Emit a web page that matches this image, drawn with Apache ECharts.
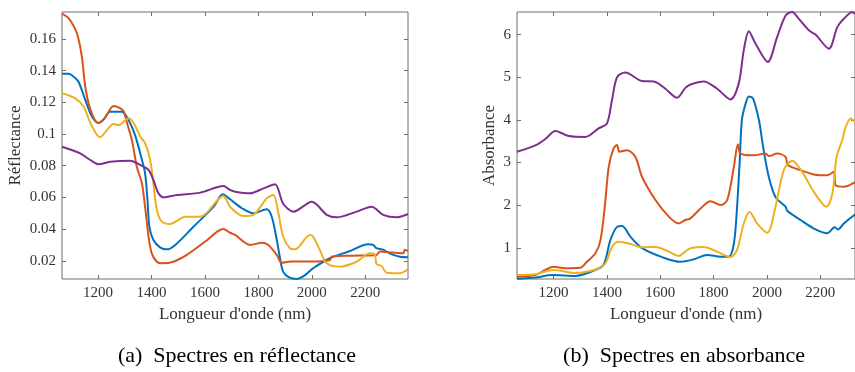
<!DOCTYPE html>
<html>
<head>
<meta charset="utf-8">
<script src="https://cdn.jsdelivr.net/npm/echarts@6/dist/echarts.min.js"></script>
<style>
html,body{margin:0;padding:0;background:#fff;}
#chart{width:855px;height:372px;}
</style>
</head>
<body>
<div id="chart"></div>
<script>
// ---- Data (wavelength nm, value) ----
const xTicks = [1200, 1400, 1600, 1800, 2000, 2200];
const reflTicks = [0.02, 0.04, 0.06, 0.08, 0.1, 0.12, 0.14, 0.16];
const absTicks = [1, 2, 3, 4, 5, 6];
const seriesNames = ['Échantillon 1', 'Échantillon 2', 'Échantillon 3', 'Échantillon 4'];
const colors = ['#0072BD', '#D95319', '#EDB120', '#7E2F8E'];

const reflBlue = [[1065,0.138],[1090,0.138],[1110,0.136],[1127,0.133],[1152,0.1215],[1177,0.111],[1202,0.107],[1220,0.109],[1245,0.114],[1289,0.114],[1314,0.1088],[1339,0.099],[1364,0.0838],[1376,0.0752],[1385,0.0583],[1392,0.0415],[1407,0.0331],[1432,0.0285],[1457,0.0272],[1489,0.030],[1557,0.0415],[1632,0.054],[1667,0.062],[1694,0.0588],[1740,0.053],[1781,0.050],[1831,0.0525],[1850,0.0478],[1869,0.0331],[1881,0.0216],[1893,0.013],[1915,0.0095],[1943,0.0085],[1975,0.011],[2005,0.0153],[2068,0.0216],[2140,0.026],[2211,0.0304],[2230,0.030],[2242,0.028],[2267,0.027],[2300,0.024],[2330,0.0226],[2360,0.0222]];
const reflOrange = [[1065,0.176],[1090,0.173],[1115,0.166],[1127,0.160],[1140,0.148],[1152,0.130],[1171,0.1155],[1200,0.107],[1225,0.110],[1258,0.1177],[1280,0.1165],[1295,0.1145],[1310,0.106],[1327,0.096],[1345,0.0794],[1364,0.069],[1376,0.054],[1389,0.0352],[1401,0.0247],[1420,0.0194],[1439,0.0184],[1482,0.0194],[1532,0.0237],[1600,0.032],[1669,0.040],[1694,0.0377],[1713,0.0363],[1769,0.030],[1813,0.0314],[1837,0.030],[1869,0.0237],[1887,0.0188],[1920,0.0195],[2000,0.0195],[2068,0.0205],[2074,0.0226],[2150,0.0232],[2242,0.0237],[2255,0.0258],[2300,0.0252],[2342,0.0247],[2348,0.027],[2360,0.026]];
const reflYellow = [[1065,0.1257],[1115,0.1225],[1146,0.1172],[1171,0.107],[1196,0.0994],[1208,0.098],[1233,0.1025],[1258,0.1063],[1277,0.1057],[1314,0.110],[1333,0.107],[1358,0.0985],[1376,0.0942],[1395,0.0836],[1407,0.0689],[1420,0.0521],[1439,0.0447],[1470,0.0432],[1526,0.0478],[1582,0.0478],[1669,0.0609],[1694,0.054],[1744,0.0483],[1781,0.049],[1831,0.0594],[1856,0.0615],[1875,0.050],[1893,0.0352],[1918,0.0279],[1937,0.0272],[1993,0.0363],[2005,0.0352],[2030,0.0268],[2056,0.0184],[2105,0.0163],[2168,0.0194],[2217,0.0247],[2236,0.0237],[2242,0.018],[2261,0.0167],[2280,0.0125],[2330,0.0122],[2350,0.0135],[2360,0.015]];
const reflPurple = [[1065,0.092],[1133,0.0878],[1171,0.0836],[1202,0.0809],[1245,0.0825],[1320,0.0832],[1358,0.0804],[1389,0.0773],[1407,0.071],[1426,0.0626],[1445,0.060],[1495,0.0615],[1582,0.063],[1669,0.0672],[1694,0.0647],[1713,0.0636],[1769,0.0626],[1819,0.0657],[1862,0.0683],[1893,0.056],[1931,0.051],[2000,0.0573],[2056,0.049],[2093,0.0474],[2168,0.051],[2224,0.0541],[2267,0.049],[2317,0.0474],[2360,0.0495]];

const absBlue = [[1063,0.27],[1132,0.30],[1194,0.36],[1282,0.34],[1357,0.48],[1388,0.60],[1413,1.18],[1438,1.49],[1457,1.51],[1488,1.26],[1532,0.99],[1607,0.78],[1676,0.67],[1726,0.73],[1776,0.83],[1826,0.79],[1857,0.79],[1876,1.10],[1888,1.96],[1898,3.05],[1906,4.0],[1920,4.38],[1932,4.55],[1948,4.50],[1970,3.99],[1986,3.35],[2007,2.66],[2032,2.19],[2070,1.96],[2076,1.87],[2126,1.65],[2176,1.45],[2226,1.34],[2254,1.48],[2266,1.43],[2288,1.57],[2330,1.78]];
const absOrange = [[1063,0.32],[1132,0.36],[1169,0.48],[1200,0.555],[1244,0.52],[1300,0.53],[1325,0.67],[1357,0.87],[1376,1.18],[1392,1.96],[1407,2.90],[1425,3.33],[1438,3.41],[1447,3.25],[1476,3.29],[1507,3.13],[1532,2.66],[1582,2.12],[1632,1.73],[1669,1.57],[1694,1.65],[1713,1.69],[1751,1.92],[1788,2.09],[1826,2.00],[1851,2.12],[1876,2.90],[1891,3.43],[1901,3.21],[1951,3.17],[1995,3.21],[2007,3.15],[2038,3.21],[2070,3.13],[2078,2.94],[2126,2.82],[2176,2.72],[2226,2.70],[2251,2.78],[2257,2.47],[2288,2.43],[2330,2.54]];
const absYellow = [[1063,0.36],[1132,0.38],[1200,0.48],[1282,0.41],[1357,0.49],[1394,0.63],[1419,1.02],[1444,1.14],[1482,1.10],[1532,1.01],[1582,1.02],[1632,0.91],[1669,0.81],[1694,0.91],[1713,0.99],[1763,1.02],[1813,0.91],[1863,0.78],[1888,0.95],[1913,1.57],[1935,1.84],[1963,1.57],[2001,1.35],[2032,1.96],[2063,2.82],[2095,3.04],[2132,2.78],[2176,2.31],[2223,1.96],[2245,2.27],[2261,3.13],[2282,3.52],[2295,3.83],[2314,4.03],[2330,3.95]];
const absPurple = [[1063,3.25],[1132,3.40],[1169,3.55],[1207,3.74],[1257,3.62],[1319,3.60],[1369,3.80],[1400,3.91],[1419,4.46],[1438,5.00],[1469,5.11],[1532,4.91],[1576,4.90],[1619,4.73],[1663,4.52],[1694,4.75],[1713,4.83],[1763,4.90],[1813,4.73],[1863,4.48],[1894,4.85],[1913,5.63],[1932,6.08],[1957,5.79],[2003,5.36],[2038,5.94],[2070,6.45],[2095,6.53],[2114,6.41],[2157,6.10],[2182,6.00],[2232,5.67],[2264,6.18],[2288,6.37],[2320,6.53],[2330,6.48]];

const xTitle = "Longueur d'onde (nm)";
const reflTitle = 'Réflectance';
const absTitle = 'Absorbance';
const captionA = '(a)  Spectres en réflectance';
const captionB = '(b)  Spectres en absorbance';

// ---- Chart ----
const FONT = 'Liberation Serif';
const AX = '#6e6e6e';
const TXT = '#333333';

function xAxisDef(gi, min, max, pos, show) {
  return {
    type: 'value', gridIndex: gi, min: min, max: max, position: pos,
    axisLine: { show: false },
    splitLine: { show: false },
    axisTick: { show: true, inside: true, length: 4, customValues: xTicks, lineStyle: { color: AX, width: 1 } },
    axisLabel: { show: show, customValues: xTicks, margin: 7, fontFamily: FONT, fontSize: 15, color: TXT,
      formatter: v => String(Math.round(v)) },
    name: show ? xTitle : '', nameLocation: 'middle', nameGap: 25,
    nameTextStyle: { fontFamily: FONT, fontSize: 17, color: TXT }
  };
}
function yAxisDef(gi, min, max, pos, show, ticks, name, gap) {
  return {
    type: 'value', gridIndex: gi, min: min, max: max, position: pos,
    axisLine: { show: false },
    splitLine: { show: false },
    axisTick: { show: true, inside: true, length: 4, customValues: ticks, lineStyle: { color: AX, width: 1 } },
    axisLabel: { show: show, customValues: ticks, margin: 6, fontFamily: FONT, fontSize: 15, color: TXT,
      formatter: v => String(+(+v).toFixed(2)) },
    name: show ? name : '', nameLocation: 'middle', nameGap: gap,
    nameTextStyle: { fontFamily: FONT, fontSize: 17, color: TXT }
  };
}
function line(name, data, color, xi, yi) {
  return {
    type: 'line', name: name, data: data, xAxisIndex: xi, yAxisIndex: yi,
    showSymbol: false, smooth: 0.3, clip: true,
    lineStyle: { color: color, width: 2 }, itemStyle: { color: color }
  };
}

const chart = echarts.init(document.getElementById('chart'), null, { renderer: 'canvas' });
chart.setOption({
  animation: false,
  backgroundColor: '#ffffff',
  grid: [
    { left: 62, top: 12, width: 346, height: 267, show: true, borderColor: AX, borderWidth: 1, backgroundColor: 'transparent' },
    { left: 517, top: 12, width: 338, height: 267, show: true, borderColor: AX, borderWidth: 1, backgroundColor: 'transparent' }
  ],
  xAxis: [
    xAxisDef(0, 1065, 2360, 'bottom', true),
    xAxisDef(0, 1065, 2360, 'top', false),
    xAxisDef(1, 1063, 2330, 'bottom', true),
    xAxisDef(1, 1063, 2330, 'top', false)
  ],
  yAxis: [
    yAxisDef(0, 0.0085, 0.177, 'left', true, reflTicks, reflTitle, 38),
    yAxisDef(0, 0.0085, 0.177, 'right', false, reflTicks, '', 0),
    yAxisDef(1, 0.267, 6.53, 'left', true, absTicks, absTitle, 19),
    yAxisDef(1, 0.267, 6.53, 'right', false, absTicks, '', 0)
  ],
  series: [
    line(seriesNames[0], reflBlue, colors[0], 0, 0),
    line(seriesNames[1], reflOrange, colors[1], 0, 0),
    line(seriesNames[2], reflYellow, colors[2], 0, 0),
    line(seriesNames[3], reflPurple, colors[3], 0, 0),
    line(seriesNames[0], absBlue, colors[0], 2, 2),
    line(seriesNames[1], absOrange, colors[1], 2, 2),
    line(seriesNames[2], absYellow, colors[2], 2, 2),
    line(seriesNames[3], absPurple, colors[3], 2, 2)
  ],
  graphic: [
    { type: 'text', x: 237, y: 356, style: { text: captionA, fontFamily: FONT, fontSize: 22, fill: '#000', align: 'center', verticalAlign: 'middle' } },
    { type: 'text', x: 684, y: 356, style: { text: captionB, fontFamily: FONT, fontSize: 22, fill: '#000', align: 'center', verticalAlign: 'middle' } }
  ]
});
</script>
</body>
</html>
